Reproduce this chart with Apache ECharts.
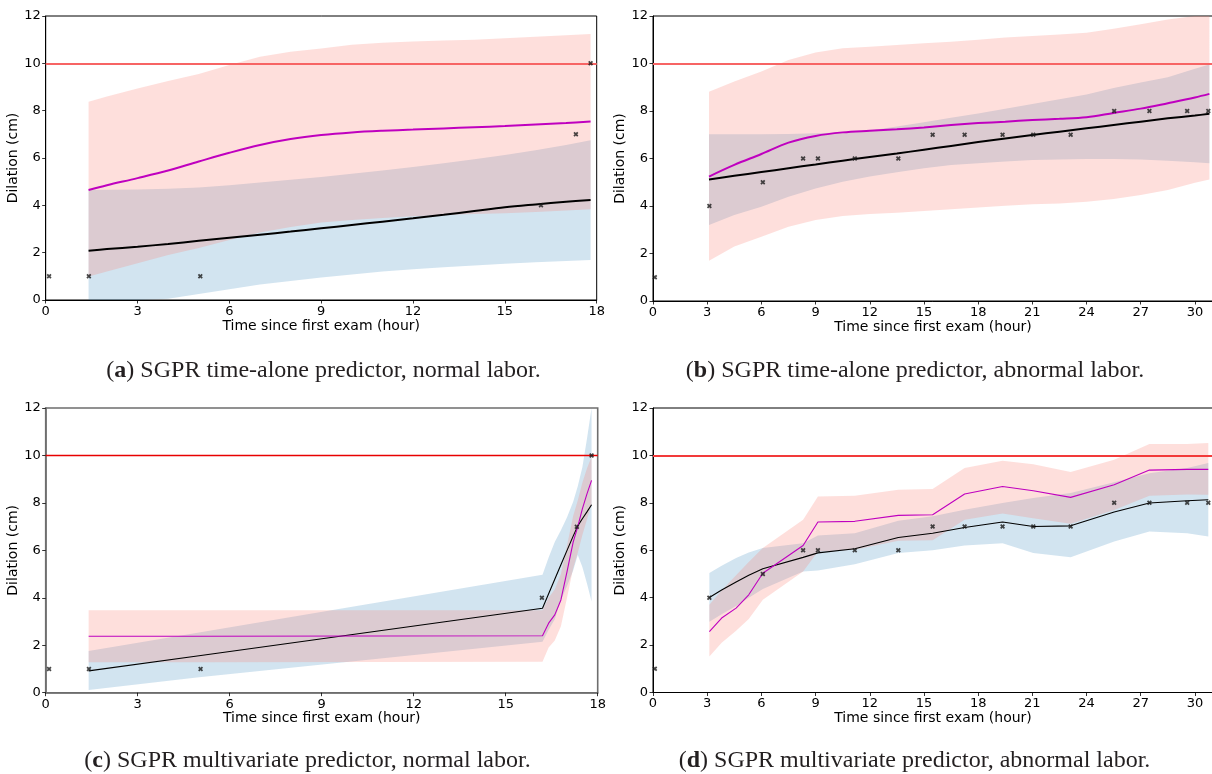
<!DOCTYPE html>
<html><head><meta charset="utf-8">
<script src="https://cdn.jsdelivr.net/npm/echarts@6/dist/echarts.min.js"></script>
<style>html,body{margin:0;padding:0;background:#fff}#c{width:1212px;height:774px}</style>
</head><body><div id="c"></div>
<script>
// ---------- observations ----------
const obsNormalX = [0.11, 1.41, 5.05, 16.18, 17.32, 17.8];
const obsNormalY = [1, 1, 1, 4, 7, 10];
const obsAbnX = [0.1, 3.12, 6.08, 8.31, 9.13, 11.17, 13.58, 15.48, 17.25, 19.35, 21.05, 23.12, 25.53, 27.48, 29.57, 30.74];
const obsAbnY = [1, 4, 5, 6, 6, 6, 6, 7, 7, 7, 7, 7, 8, 8, 8, 8];

// ---------- panel (a) ----------
const aX = [1.4, 2, 3, 4, 5, 6, 7, 8, 9, 10, 11, 12, 13, 14, 15, 16, 17, 17.8];
const aMagenta = [4.65, 4.85, 5.15, 5.47, 5.85, 6.22, 6.55, 6.8, 6.97, 7.08, 7.15, 7.2, 7.25, 7.3, 7.35, 7.42, 7.48, 7.54];
const aBlack = [2.08, 2.15, 2.25, 2.37, 2.5, 2.63, 2.76, 2.89, 3.03, 3.17, 3.31, 3.45, 3.6, 3.76, 3.92, 4.04, 4.15, 4.23];
const aPinkHi = [8.38, 8.6, 8.94, 9.25, 9.55, 9.93, 10.28, 10.49, 10.63, 10.78, 10.87, 10.92, 10.96, 11.0, 11.06, 11.12, 11.19, 11.24];
const aPinkLo = [0.99, 1.2, 1.55, 1.9, 2.2, 2.54, 2.85, 3.08, 3.27, 3.38, 3.47, 3.54, 3.59, 3.63, 3.67, 3.72, 3.78, 3.83];
const aBlueHi = [4.65, 4.66, 4.67, 4.7, 4.75, 4.85, 4.97, 5.08, 5.2, 5.33, 5.47, 5.62, 5.78, 5.95, 6.13, 6.33, 6.55, 6.75];
const aBlueLo = [-0.6, -0.4, -0.15, 0.05, 0.25, 0.45, 0.65, 0.8, 0.95, 1.08, 1.2, 1.3, 1.38, 1.46, 1.53, 1.6, 1.65, 1.69];

// ---------- panel (b) ----------
const bX = [3.1, 4.5, 6, 7.5, 9, 10.5, 12, 13.5, 15, 16.5, 18, 19.5, 21, 22.5, 24, 25.5, 27, 28.5, 30, 30.8];
const bMagenta = [5.24, 5.73, 6.19, 6.67, 6.95, 7.1, 7.17, 7.23, 7.31, 7.41, 7.49, 7.55, 7.62, 7.67, 7.74, 7.92, 8.1, 8.33, 8.57, 8.72];
const bBlack = [5.12, 5.27, 5.43, 5.59, 5.75, 5.91, 6.06, 6.21, 6.37, 6.53, 6.69, 6.84, 6.99, 7.13, 7.27, 7.41, 7.55, 7.69, 7.81, 7.88];
const bPinkHi = [8.81, 9.24, 9.66, 10.15, 10.46, 10.64, 10.71, 10.78, 10.85, 10.92, 11.0, 11.1, 11.16, 11.22, 11.3, 11.46, 11.65, 11.85, 12.05, 12.15];
const bPinkLo = [1.7, 2.29, 2.71, 3.13, 3.41, 3.58, 3.66, 3.72, 3.79, 3.86, 3.94, 4.01, 4.07, 4.11, 4.18, 4.29, 4.46, 4.67, 4.98, 5.12];
const bBlueHi = [7.02, 7.02, 7.02, 7.03, 7.06, 7.1, 7.18, 7.35, 7.53, 7.72, 7.9, 8.1, 8.3, 8.5, 8.7, 8.97, 9.2, 9.42, 9.78, 9.96];
const bBlueLo = [3.2, 3.62, 3.97, 4.39, 4.74, 5.02, 5.24, 5.42, 5.59, 5.73, 5.8, 5.87, 5.94, 5.96, 5.98, 5.98, 5.96, 5.91, 5.84, 5.8];

// ---------- panel (c) ----------
const cX = [1.4, 5.0, 16.2, 16.4, 16.6, 16.8, 17.0, 17.2, 17.35, 17.5, 17.65, 17.8];
const cBlack = [0.92, 1.56, 3.56, 4.17, 4.78, 5.39, 6.0, 6.6, 7.03, 7.33, 7.62, 7.92];
const cMagenta = [2.38, 2.38, 2.4, 2.93, 3.28, 3.91, 5.1, 6.35, 7.0, 7.75, 8.38, 8.95];
const cPinkHi = [3.47, 3.47, 3.48, 4.0, 4.35, 5.0, 6.2, 7.45, 8.1, 8.85, 9.45, 9.95];
const cPinkLo = [1.28, 1.28, 1.3, 1.9, 2.2, 2.8, 4.0, 5.25, 5.9, 6.65, 7.3, 7.95];
const cBlueHi = [1.76, 2.54, 4.97, 5.7, 6.35, 6.85, 7.4, 8.05, 8.7, 9.5, 10.7, 12.3];
const cBlueLo = [0.11, 0.65, 2.15, 2.65, 3.1, 3.9, 4.5, 5.15, 5.8, 5.3, 4.6, 3.84];

// ---------- panel (d) ----------
const dX = [3.12, 3.8, 4.6, 5.3, 6.08, 8.31, 9.13, 11.17, 13.58, 15.48, 17.25, 19.35, 21.05, 23.12, 25.53, 27.48, 29.57, 30.74];
const dBlack = [4.01, 4.32, 4.66, 4.95, 5.22, 5.7, 5.89, 6.06, 6.54, 6.72, 6.96, 7.19, 7.0, 7.03, 7.61, 7.99, 8.09, 8.13];
const dMagenta = [2.57, 3.14, 3.56, 4.12, 5.03, 6.2, 7.19, 7.22, 7.47, 7.5, 8.37, 8.69, 8.51, 8.23, 8.76, 9.38, 9.41, 9.41];
const dPinkHi = [3.7, 4.3, 4.95, 5.5, 6.09, 7.29, 8.27, 8.3, 8.55, 8.58, 9.47, 9.78, 9.63, 9.3, 9.82, 10.48, 10.48, 10.52];
const dPinkLo = [1.52, 2.1, 2.6, 3.1, 3.91, 5.1, 5.95, 6.02, 6.4, 6.42, 7.29, 7.55, 7.35, 7.12, 7.7, 8.3, 8.35, 8.34];
const dBlueHi = [5.04, 5.35, 5.67, 5.9, 6.09, 6.3, 6.62, 6.72, 7.24, 7.43, 7.71, 7.99, 8.2, 8.41, 8.87, 9.25, 9.47, 9.68];
const dBlueLo = [2.98, 3.3, 3.65, 4.0, 4.37, 5.1, 5.15, 5.41, 5.88, 6.0, 6.2, 6.3, 5.88, 5.71, 6.37, 6.79, 6.72, 6.58];

// ---------- labels ----------
const xAxisTitle = 'Time since first exam (hour)';
const yAxisTitle = 'Dilation (cm)';
const captions = [
  ['a', ' SGPR time-alone predictor, normal labor.'],
  ['b', ' SGPR time-alone predictor, abnormal labor.'],
  ['c', ' SGPR multivariate predictor, normal labor.'],
  ['d', ' SGPR multivariate predictor, abnormal labor.']
];
const xMaxes = [18, 31, 18, 31];

// ---------- styling / layout ----------
const FONT = 'DejaVu Sans';
const BLUE = 'rgba(31,119,180,0.2)';
const PINK = 'rgba(250,128,114,0.25)';
const grids = [
  {left: 45.7, top: 16, width: 551, height: 284},
  {left: 653, top: 16, width: 560, height: 285},
  {left: 45.7, top: 408, width: 552, height: 284.7},
  {left: 653, top: 408, width: 560, height: 284.5}
];
const spineColor = ['#000', '#000', '#6e6e6e', '#000'];
const spineWidth = [1, 1, 1.6, 1];
const lineW = [2, 2, 1.1, 1.1];
const redStyle = [
  {color: '#f76464', width: 2},
  {color: '#f76464', width: 2},
  {color: '#e80000', width: 1.3},
  {color: '#f23a3a', width: 1.8}
];
const XMARK = 'path://M0,2.5L2.5,0L5,2.5L7.5,0L10,2.5L7.5,5L10,7.5L7.5,10L5,7.5L2.5,10L0,7.5L2.5,5Z';

function pairs(xs, ys) { return xs.map((x, i) => [x, ys[i]]); }

function band(gi, xs, lo, hi, color) {
  return {
    type: 'custom', xAxisIndex: gi, yAxisIndex: gi, silent: true, clip: true, z: 2,
    data: xs.map((x, i) => [x, lo[i], hi[i]]),
    encode: {x: 0, y: [1, 2]},
    renderItem: function (params, api) {
      if (params.dataIndex !== 0) return null;
      const cs = params.coordSys;
      const clamp = p => [Math.min(Math.max(p[0], cs.x), cs.x + cs.width), Math.min(Math.max(p[1], cs.y), cs.y + cs.height)];
      const pts = [];
      for (let i = 0; i < xs.length; i++) pts.push(clamp(api.coord([xs[i], hi[i]])));
      for (let i = xs.length - 1; i >= 0; i--) pts.push(clamp(api.coord([xs[i], lo[i]])));
      return {type: 'polygon', shape: {points: pts}, style: {fill: color, stroke: null}};
    }
  };
}
function meanLine(gi, xs, ys, color, smooth, withRef) {
  const s = {
    type: 'line', xAxisIndex: gi, yAxisIndex: gi, data: pairs(xs, ys), showSymbol: false, silent: true,
    smooth: smooth ? 0.35 : false, lineStyle: {color: color, width: lineW[gi]}, z: 3
  };
  if (withRef) {
    s.markLine = {silent: true, symbol: 'none', label: {show: false}, animation: false,
      lineStyle: {color: redStyle[gi].color, width: redStyle[gi].width, type: 'solid'}, data: [{yAxis: 10}]};
  }
  return s;
}
function obs(gi, xs, ys) {
  return {type: 'scatter', xAxisIndex: gi, yAxisIndex: gi, data: pairs(xs, ys), symbol: XMARK, symbolSize: 5,
    itemStyle: {color: '#1a1a1a'}, silent: true, z: 5};
}

const series = [];
const panels = [
  [aX, aBlueLo, aBlueHi, aPinkLo, aPinkHi, aBlack, aMagenta, obsNormalX, obsNormalY, true],
  [bX, bBlueLo, bBlueHi, bPinkLo, bPinkHi, bBlack, bMagenta, obsAbnX, obsAbnY, true],
  [cX, cBlueLo, cBlueHi, cPinkLo, cPinkHi, cBlack, cMagenta, obsNormalX, obsNormalY, false],
  [dX, dBlueLo, dBlueHi, dPinkLo, dPinkHi, dBlack, dMagenta, obsAbnX, obsAbnY, false]
];
panels.forEach((p, gi) => {
  series.push(band(gi, p[0], p[1], p[2], BLUE));
  series.push(band(gi, p[0], p[3], p[4], PINK));
  series.push(meanLine(gi, p[0], p[5], '#000000', p[9], true));
  series.push(meanLine(gi, p[0], p[6], '#bf00bf', p[9], false));
  series.push(obs(gi, p[7], p[8]));
});

const option = {
  animation: false,
  backgroundColor: '#ffffff',
  textStyle: {fontFamily: FONT},
  grid: grids.map((g, i) => Object.assign({}, g, {
    show: true, borderColor: spineColor[i], borderWidth: spineWidth[i], backgroundColor: 'transparent',
    containLabel: false, outerBoundsMode: 'none'
  })),
  xAxis: grids.map((g, i) => ({
    type: 'value', gridIndex: i, min: 0, max: xMaxes[i], interval: 3,
    name: xAxisTitle, nameLocation: 'middle', nameGap: 17,
    nameTextStyle: {fontFamily: FONT, fontSize: 14, color: '#000'},
    axisLine: {show: true, onZero: false, lineStyle: {color: spineColor[i], width: spineWidth[i]}},
    axisTick: {show: true, length: 3.5, lineStyle: {color: '#000', width: 0.8}},
    axisLabel: {fontFamily: FONT, fontSize: 13, color: '#000', margin: 5, showMaxLabel: xMaxes[i] === 18},
    splitLine: {show: false}
  })),
  yAxis: grids.map((g, i) => ({
    type: 'value', gridIndex: i, min: 0, max: 12, interval: 2,
    name: yAxisTitle, nameLocation: 'middle', nameGap: 21,
    nameTextStyle: {fontFamily: FONT, fontSize: 14, color: '#000'},
    axisLine: {show: true, lineStyle: {color: spineColor[i], width: spineWidth[i]}},
    axisTick: {show: true, length: 3.5, lineStyle: {color: '#000', width: 0.8}},
    axisLabel: {fontFamily: FONT, fontSize: 13, color: '#000', margin: 5},
    splitLine: {show: false}
  })),
  graphic: captions.map((c, i) => ({
    type: 'text',
    x: [323.5, 915, 307.5, 914.5][i],
    y: i < 2 ? 371 : 761,
    silent: true,
    style: {
      text: '({b|' + c[0] + '})' + c[1],
      fontFamily: 'Liberation Serif', fontSize: 24, fill: '#231f20',
      textAlign: 'center', textVerticalAlign: 'middle',
      rich: {b: {fontFamily: 'Liberation Serif', fontSize: 24, fontWeight: 'bold', fill: '#231f20', color: '#231f20'}}
    }
  })),
  series: series
};
const chart = echarts.init(document.getElementById('c'), null, {renderer: 'canvas'});
chart.setOption(option);
</script></body></html>
